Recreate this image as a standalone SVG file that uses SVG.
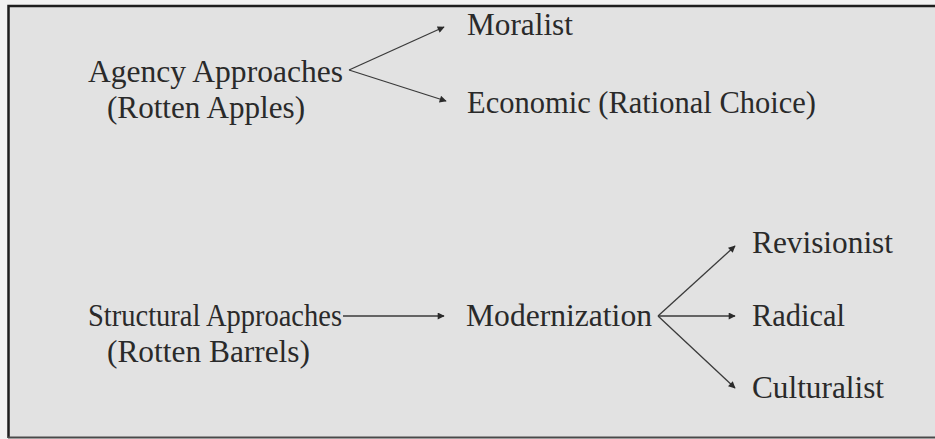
<svg xmlns="http://www.w3.org/2000/svg" width="935" height="439" viewBox="0 0 935 439">
  <defs>
    <marker id="arrow" viewBox="0 0 10 10" refX="9" refY="5" markerWidth="9" markerHeight="7" markerUnits="userSpaceOnUse" orient="auto">
      <path d="M0,0 L10,5 L0,10 Z" fill="#2b2b2b"/>
    </marker>
    <style>
      .edge { stroke: #3a3a3a; stroke-width: 1.3; fill: none; marker-end: url(#arrow); }
    </style>
  </defs>

  <!-- page and frame -->
  <rect x="0" y="0" width="935" height="439" fill="#f2f2f2"/>
  <rect x="8" y="6" width="930" height="431" fill="#e2e2e2"/>
  <path d="M8.5,438 L8.5,6 L935,6" stroke="#1e1e1e" stroke-width="2.5" fill="none"/>
  <line x1="8" y1="437.5" x2="935" y2="437.5" stroke="#4a4a4a" stroke-width="2"/>

  <g font-family="Liberation Serif, Times New Roman, serif" font-size="31" fill="#2a2a2a">
    <g id="agency">
      <text x="88" y="82" textLength="255" lengthAdjust="spacingAndGlyphs">Agency Approaches</text>
      <text x="107" y="118" textLength="198" lengthAdjust="spacingAndGlyphs">(Rotten Apples)</text>
    </g>
    <g id="moralist">
      <text x="467" y="35" textLength="106" lengthAdjust="spacingAndGlyphs">Moralist</text>
    </g>
    <g id="economic">
      <text x="467" y="113" textLength="349" lengthAdjust="spacingAndGlyphs">Economic (Rational Choice)</text>
    </g>
    <g id="structural">
      <text x="88" y="326" textLength="254" lengthAdjust="spacingAndGlyphs">Structural Approaches</text>
      <text x="107" y="362" textLength="203" lengthAdjust="spacingAndGlyphs">(Rotten Barrels)</text>
    </g>
    <g id="modernization">
      <text x="466" y="326" textLength="186" lengthAdjust="spacingAndGlyphs">Modernization</text>
    </g>
    <g id="revisionist">
      <text x="752" y="253" textLength="141" lengthAdjust="spacingAndGlyphs">Revisionist</text>
    </g>
    <g id="radical">
      <text x="752" y="326" textLength="93" lengthAdjust="spacingAndGlyphs">Radical</text>
    </g>
    <g id="culturalist">
      <text x="752" y="398" textLength="132" lengthAdjust="spacingAndGlyphs">Culturalist</text>
    </g>
  </g>

  <g id="connectors">
    <line class="edge" x1="349" y1="70" x2="444" y2="27"/>
    <line class="edge" x1="349" y1="70" x2="446" y2="101"/>
    <line class="edge" x1="343" y1="316" x2="444" y2="316"/>
    <line class="edge" x1="658" y1="316" x2="735" y2="246"/>
    <line class="edge" x1="658" y1="316" x2="735" y2="316"/>
    <line class="edge" x1="658" y1="316" x2="735" y2="388"/>
  </g>
</svg>
